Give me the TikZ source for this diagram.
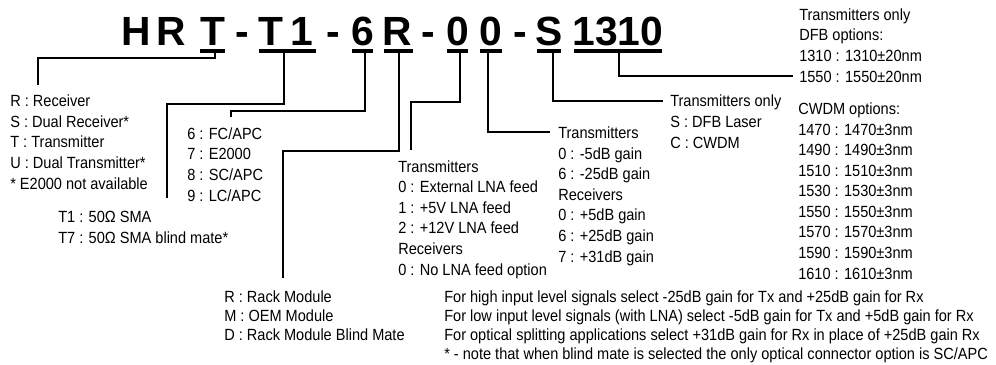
\documentclass[tikz,border=0pt]{standalone}
\usepackage{fontspec}
\setmainfont{Liberation Sans}[FakeStretch=0.9]
\newfontfamily\codefont{Liberation Sans}
\usetikzlibrary{positioning}

\begin{document}
\begin{tikzpicture}[x=0.025cm,y=-0.025cm,
    lbl/.style={anchor=base west,inner sep=0pt,align=left,font=\fontsize{11.5}{14.6}\selectfont},
    tight/.style={font=\fontsize{11.5}{13.5}\selectfont},
    code/.style={anchor=base,inner sep=0pt,font=\codefont\fontsize{29}{29}\selectfont\bfseries},
    uline/.style={line width=2.8pt},
    lead/.style={line width=0.8pt}]
  \useasboundingbox (0,0) rectangle (996,364);

  % part number
  \foreach \x/\c [count=\i] in {136/H,171.5/R,212.5/T,242/-,271/T,301.5/1,333/-,362.5/6,
      397/R,428/-,457.5/0,490.5/0,520/-,549/S,618/1310}
    \node[code] (c\i) at (\x,45) {\c};

  % underlines
  \foreach \a/\b in {200/225,259/316,352/373,384/413,447/468,480/502,537/561,574/662}
    \draw[uline] (\a,51) -- (\b,51);

  % lists (placed by the baseline of their last line)
  \node[lbl] (type) at (10,189) {R : Receiver\\S : Dual Receiver*\\T : Transmitter\\U : Dual Transmitter*\\* E2000 not available};
  \node[lbl] (rf) at (58,243) {T1 : 50Ω SMA\\T7 : 50Ω SMA blind mate*};
  \node[lbl] (opt) at (187,201) {6 : FC/APC\\7 : E2000\\8 : SC/APC\\9 : LC/APC};
  \node[lbl,tight] (rack) at (224,340) {R : Rack Module\\M : OEM Module\\D : Rack Module Blind Mate};
  \node[lbl] (lna) at (398,275) {Transmitters\\0 : External LNA feed\\1 : +5V LNA feed\\2 : +12V LNA feed\\Receivers\\0 : No LNA feed option};
  \node[lbl] (gain) at (558,262) {Transmitters\\0 : -5dB gain\\6 : -25dB gain\\Receivers\\0 : +5dB gain\\6 : +25dB gain\\7 : +31dB gain};
  \node[lbl] (laser) at (670,148) {Transmitters only\\S : DFB Laser\\C : CWDM};
  \node[lbl] (dfb) at (799,82) {Transmitters only\\DFB options:\\1310 : 1310±20nm\\1550 : 1550±20nm};
  \node[lbl] (cwdm) at (798,279) {CWDM options:\\1470 : 1470±3nm\\1490 : 1490±3nm\\1510 : 1510±3nm\\1530 : 1530±3nm\\1550 : 1550±3nm\\1570 : 1570±3nm\\1590 : 1590±3nm\\1610 : 1610±3nm};
  \node[lbl,tight] (notes) at (444,359) {For high input level signals select -25dB gain for Tx and +25dB gain for Rx\\
    For low input level signals (with LNA) select -5dB gain for Tx and +5dB gain for Rx\\
    For optical splitting applications select +31dB gain for Rx in place of +25dB gain Rx\\
    * - note that when blind mate is selected the only optical connector option is SC/APC};

  % leader ends
  \coordinate (eType) at (38,85);
  \coordinate (eRf) at (167,198);
  \coordinate (eOpt) at (231,117);
  \coordinate (eRack) at (283,278);
  \coordinate (eLna) at (411,150);
  \coordinate (eGain) at (550,132);
  \coordinate (eLaser) at (663,101);
  \coordinate (eDfb) at (793,76);

  % leaders
  \draw[lead] (215,53) |- (38,58) -- (eType);
  \draw[lead] (284,53) |- (167,104) -- (eRf);
  \draw[lead] (365,53) |- (231,111) -- (eOpt);
  \draw[lead] (399,53) |- (283,151) -- (eRack);
  \draw[lead] (460,53) |- (411,102) -- (eLna);
  \draw[lead] (488,53) |- (eGain);
  \draw[lead] (553,53) |- (eLaser);
  \draw[lead] (619,53) |- (eDfb);
\end{tikzpicture}
\end{document}
